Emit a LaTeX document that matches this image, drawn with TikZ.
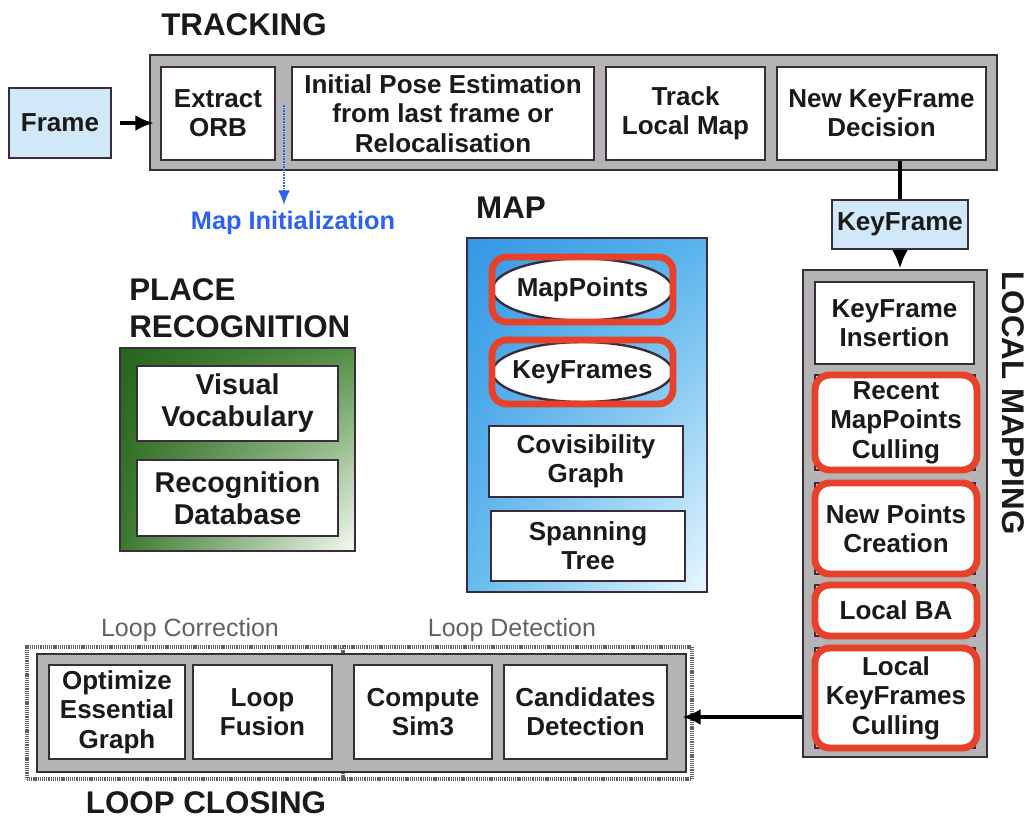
\documentclass[tikz,border=0pt]{standalone}
\usepackage{fontspec}
\setmainfont{Liberation Sans}
\usetikzlibrary{arrows.meta,shapes.geometric,shadings}
\definecolor{bd}{HTML}{3A2C3A}
\definecolor{gfill}{HTML}{B4B4B4}
\definecolor{lblue}{HTML}{D0E8F8}
\definecolor{redc}{HTML}{E8412A}
\definecolor{txt}{HTML}{1A1A1A}
\definecolor{mapblue}{HTML}{2B62F2}
\definecolor{mUL}{RGB}{53,151,229}
\definecolor{mUR}{RGB}{88,180,236}
\definecolor{mLL}{RGB}{100,186,238}
\definecolor{mLR}{RGB}{232,248,255}
\definecolor{gUL}{RGB}{40,100,28}
\definecolor{gUR}{RGB}{82,144,68}
\definecolor{gLL}{RGB}{58,120,44}
\definecolor{gLR}{RGB}{246,251,244}
\begin{document}
\begin{tikzpicture}[x=0.75pt,y=-0.75pt,
 every node/.style={font=\bfseries\fontsize{19.5}{22}\selectfont, text=txt, align=center, inner sep=0pt},
 wh/.style 2 args={minimum width=#1*0.75pt, minimum height=#2*0.75pt},
 wbox/.style={draw=bd, fill=white, line width=2.2pt, rectangle},
 cont/.style={draw=bd, fill=gfill, line width=2pt, rectangle},
 lbbox/.style={draw=bd, fill=lblue, line width=2.2pt, rectangle},
 redbox/.style={draw=redc, line width=5.2pt, rounded corners=11pt, rectangle},
 under/.style={draw=bd, fill=white, line width=1.8pt, rectangle},
 ttl/.style={font=\bfseries\fontsize{23.5}{27.75}\selectfont},
 subttl/.style={font=\fontsize{18.75}{22}\selectfont, text=black!62},
 dotbox/.style={draw=black!62, dash pattern=on 0.8pt off 0.6pt, line width=2.6pt, rectangle},
 conn/.style={line width=3pt, draw=black},
 tipb/.style={-{Latex[length=14pt,width=12pt]}}
]
\useasboundingbox (0,0) rectangle (1033,822);

% ---------------- TRACKING
\node[ttl] (ttrk) at (244,25) {TRACKING};
\node[cont, wh={847}{115}] (trk) at (573.5,112.5) {};
\node[wbox, wh={114}{93}] (orb) at (218,113.5) {Extract\\ORB};
\node[wbox, wh={302}{93}] (pose) at (443,113.5) {Initial Pose Estimation\\from last frame or\\Relocalisation};
\node[wbox, wh={159}{93}] (tlm) at (685.5,113.5) {Track\\Local Map};
\node[wbox, wh={209}{93}] (nkf) at (881.5,113.5) {New KeyFrame\\Decision};
\node[lbbox, wh={102}{70}] (frame) at (60,123) {Frame};
\draw[conn, tipb, shorten <=6pt, shorten >=-4pt] (frame.east) -- (trk.west |- frame.east);

% Map initialization
\coordinate (mi0) at (284,105);
\coordinate (mi1) at (284,205);
\node[text=mapblue, font=\bfseries\fontsize{19}{22}\selectfont] (mi) at (293,223) {Map Initialization};
\draw[mapblue, line width=1.6pt, dash pattern=on 1.2pt off 0.8pt, -{Latex[length=11pt,width=9pt]}] (mi0) -- (mi1);

% ---------------- KeyFrame
\node[lbbox, wh={136}{49}] (kf) at (900,224.5) {KeyFrame};
\draw[conn] (nkf.south -| kf.north) -- (kf.north);

% ---------------- LOCAL MAPPING
\node[cont, wh={184}{487}] (lm) at (895,513.5) {};
\draw[conn, tipb] (kf.south) -- (kf.south |- lm.north);
\node[ttl, rotate=-90] (tlmap) at (1013,403) {LOCAL MAPPING};
\node[wbox, wh={159}{82}] (kfi) at (894.5,323) {KeyFrame\\Insertion};
\node[under, wh={160}{95}] at (895,422.5) {};
\node[redbox, fill=white, wh={162}{95}] (rmc) at (896,422.5) {Recent\\MapPoints\\Culling};
\node[under, wh={160}{91}] at (895,528.5) {};
\node[redbox, fill=white, wh={162}{91}] (npc) at (896,528.5) {New Points\\Creation};
\node[under, wh={160}{51}] at (895,610.5) {};
\node[redbox, fill=white, wh={162}{51}] (lba) at (896,610.5) {Local BA};
\node[under, wh={160}{100}] at (895,698) {};
\node[redbox, fill=white, wh={162}{100}] (lkc) at (896,698) {Local\\KeyFrames\\Culling};

% ---------------- MAP
\node[ttl] (tmap) at (511,208) {MAP};
\node[draw=bd, line width=2pt, rectangle, wh={240}{354},
  upper left=mUL, upper right=mUR, lower left=mLL, lower right=mLR] (map) at (587,415) {};
\node[ellipse, draw=bd, fill=white, line width=1.8pt, wh={180}{62}] (mp) at (582.5,289.5) {};
\node at (mp) {MapPoints};
\node[redbox, wh={181}{65}] (mpr) at (582.5,289.5) {};
\node[ellipse, draw=bd, fill=white, line width=1.8pt, wh={180}{60}] (kfs) at (582.5,372) {};
\node at (kfs) {KeyFrames};
\node[redbox, wh={181}{64}] (kfsr) at (582.5,372) {};
\node[wbox, wh={194}{71}] (cov) at (586,461.5) {Covisibility\\Graph};
\node[wbox, wh={194}{70}] (spt) at (588,546) {Spanning\\Tree};

% ---------------- PLACE RECOGNITION
\node[ttl, align=left, anchor=west] (tpr) at (129,308) {PLACE\\RECOGNITION};
\node[draw=bd, line width=2pt, rectangle, wh={235}{203},
  upper left=gUL, upper right=gUR, lower left=gLL, lower right=gLR] (pr) at (237.5,449.5) {};
\node[wbox, wh={201}{75}, font=\bfseries\fontsize{21.5}{24}\selectfont] (vv) at (237.5,403.5) {Visual\\Vocabulary};
\node[wbox, wh={201}{76}, font=\bfseries\fontsize{21.5}{24}\selectfont] (rdb) at (237.5,498) {Recognition\\Database};

% ---------------- LOOP CLOSING
\node[subttl] (tlc1) at (190,630) {Loop Correction};
\node[subttl] (tlc2) at (512,630) {Loop Detection};
\node[dotbox, wh={316}{132}] (lcorr) at (185,713) {};
\node[dotbox, wh={349}{132}] (ldet) at (517.5,713) {};
\node[cont, wh={649}{118}] (lc) at (361.5,713) {};
\node[wbox, wh={136}{94}] (opt) at (117,712) {Optimize\\Essential\\Graph};
\node[wbox, wh={139}{94}] (fus) at (262.5,712) {Loop\\Fusion};
\node[wbox, wh={138}{94}] (sim) at (423,712) {Compute\\Sim3};
\node[wbox, wh={163}{94}] (cand) at (585.5,712) {Candidates\\Detection};
\node[ttl] (tlc) at (206,803) {LOOP CLOSING};
\coordinate (ay) at (0,717);
\draw[conn, tipb, shorten >=-4pt] (lm.west |- ay) -- (lc.east |- ay);
\end{tikzpicture}
\end{document}
